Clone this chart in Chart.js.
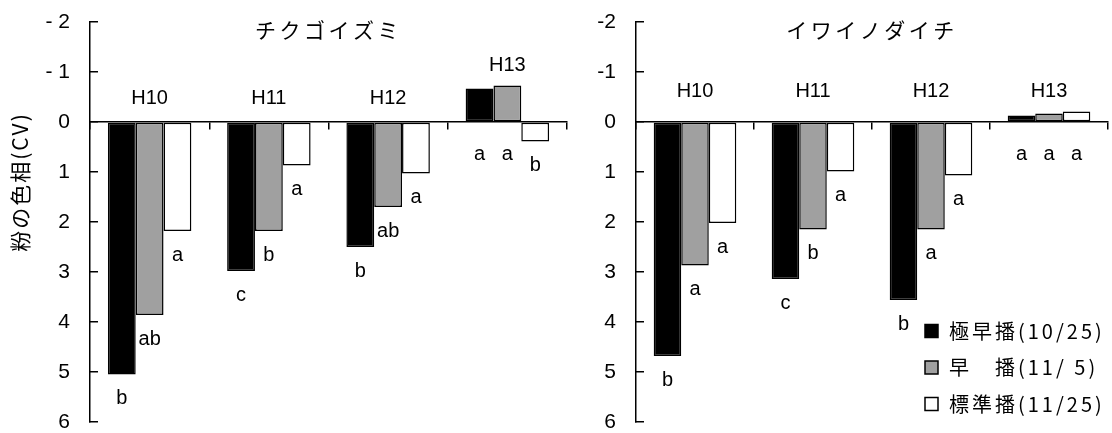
<!DOCTYPE html>
<html>
<head>
<meta charset="utf-8">
<script src="https://cdn.jsdelivr.net/npm/chart.js@4"></script>
<style>
html, body { margin: 0; padding: 0; background: #fff; }
#wrap { position: relative; width: 1112px; height: 433px; }
.panel { position: absolute; top: 0; height: 433px; }
#left { left: 0; width: 575px; }
#right { left: 556px; width: 556px; }
</style>
</head>
<body>
<div id="wrap">
  <div class="panel" id="left"><canvas id="chikugo"></canvas></div>
  <div class="panel" id="right"><canvas id="iwaino"></canvas></div>
</div>
<script>
const years = ['H10', 'H11', 'H12', 'H13'];
const seriesNames = ['極早播(10/25)', '早　播(11/ 5)', '標準播(11/25)'];

// チクゴイズミ
const chikugoVeryEarly = [5.05, 2.98, 2.50, -0.67];
const chikugoEarly = [3.86, 2.18, 1.70, -0.73];
const chikugoStandard = [2.18, 0.87, 1.03, 0.39];
const chikugoLetters = [['b', 'c', 'b', 'a'], ['ab', 'b', 'ab', 'a'], ['a', 'a', 'a', 'b']];

// イワイノダイチ
const iwainoVeryEarly = [4.68, 3.14, 3.56, -0.13];
const iwainoEarly = [2.87, 2.15, 2.15, -0.17];
const iwainoStandard = [2.02, 0.99, 1.07, -0.21];
const iwainoLetters = [['b', 'c', 'b', 'a'], ['a', 'b', 'a', 'a'], ['a', 'a', 'a', 'a']];

const leftTickLabels = ['- 2', '- 1', '0', '1', '2', '3', '4', '5', '6'];
const rightTickLabels = ['-2', '-1', '0', '1', '2', '3', '4', '5', '6'];

const fillColors = ['#000000', '#a0a0a0', '#ffffff'];
const latin = "'Liberation Sans', Arial, 'Noto Sans CJK JP', sans-serif";
const cjk = "'Noto Sans CJK JP', 'Liberation Sans', sans-serif";

// draws the texts that sit inside the plot: title, year labels, letters, legend
const marksPlugin = {
  id: 'marks',
  afterDatasetsDraw(chart, args, opts) {
    const ctx = chart.ctx;
    const xs = chart.scales.x;
    const ys = chart.scales.y;
    const area = chart.chartArea;
    const zero = ys.getPixelForValue(0);
    ctx.save();
    ctx.fillStyle = '#000';
    ctx.textAlign = 'center';
    ctx.textBaseline = 'middle';

    // title
    ctx.font = '21px ' + cjk;
    ctx.letterSpacing = '3.5px';
    ctx.fillText(opts.title, (area.left + area.right) / 2, area.top + 8);
    ctx.letterSpacing = '0px';

    // year labels above each group
    ctx.font = '20px ' + latin;
    years.forEach((yr, j) => {
      let top = zero;
      chart.data.datasets.forEach((ds, i) => {
        const bar = chart.getDatasetMeta(i).data[j];
        top = Math.min(top, bar.y);
      });
      const cy = Math.min(zero - opts.labelGap, top - 20);
      ctx.fillText(yr, xs.getPixelForValue(j), cy);
    });

    // significance letters under bars
    ctx.font = '20px ' + latin;
    chart.data.datasets.forEach((ds, i) => {
      chart.getDatasetMeta(i).data.forEach((bar, j) => {
        const v = ds.data[j];
        const cy = v >= 0 ? bar.y + 24 : zero + 32;
        ctx.fillText(opts.letters[i][j], bar.x, cy);
      });
    });

    // y axis title
    if (opts.yTitle) {
      ctx.save();
      ctx.translate(20, area.top + 160);
      ctx.rotate(-Math.PI / 2);
      ctx.font = '21px ' + cjk;
      ctx.letterSpacing = '2px';
      ctx.fillText(opts.yTitle, 0, 0);
      ctx.restore();
    }

    // legend
    if (opts.legend) {
      const lx = area.right - 183;
      ctx.textAlign = 'left';
      ctx.font = '20px ' + cjk;
      ctx.letterSpacing = '3px';
      chart.data.datasets.forEach((ds, i) => {
        const cy = area.bottom - 91 + i * 36.5;
        ctx.fillStyle = ds.backgroundColor;
        ctx.fillRect(lx, cy - 6.5, 13, 13);
        ctx.strokeStyle = '#000';
        ctx.lineWidth = 1.5;
        ctx.strokeRect(lx, cy - 6.5, 13, 13);
        ctx.fillStyle = '#000';
        ctx.fillText(ds.label, lx + 24, cy);
      });
      ctx.letterSpacing = '0px';
    }
    ctx.restore();
  }
};

function makeDatasets(values) {
  return values.map((data, i) => ({
    label: seriesNames[i],
    data,
    backgroundColor: fillColors[i],
    borderColor: '#000',
    borderWidth: 1.5,
    borderSkipped: false,
    categoryPercentage: 0.7,
    barPercentage: 1.0,
  }));
}

function makeChart(canvasId, values, marks, tickLabels, axisWidth, padRight) {
  const ctx = document.getElementById(canvasId).getContext('2d');
  return new Chart(ctx, {
    type: 'bar',
    data: {
      labels: years,
      datasets: makeDatasets(values),
    },
    plugins: [marksPlugin],
    options: {
      responsive: true,
      maintainAspectRatio: false,
      animation: false,
      layout: { padding: { top: 22, bottom: 11, left: 0, right: padRight } },
      plugins: {
        legend: { display: false },
        tooltip: { enabled: false },
        marks,
      },
      scales: {
        x: {
          type: 'category',
          position: { y: 0 },
          offset: true,
          ticks: { display: false },
          grid: { offset: true, drawOnChartArea: false, drawTicks: true, tickLength: 7, color: '#000', lineWidth: 1.5 },
          border: { color: '#000', width: 1.5 },
          afterFit(scale) { scale.height = 0; },
        },
        y: {
          min: -2,
          max: 6,
          reverse: true,
          ticks: {
            stepSize: 1,
            color: '#000',
            padding: 28,
            font: { size: 21, family: latin },
            callback: v => tickLabels[v + 2],
          },
          grid: { drawOnChartArea: false, tickLength: -8, color: '#000', lineWidth: 1.5 },
          border: { color: '#000', width: 1.5 },
          afterFit(scale) {
            scale.width = axisWidth;
            // the tick padding would otherwise push the plot down from the top and up from the bottom
            scale.paddingTop = 0;
            scale.paddingBottom = 0;
          },
        },
      },
    },
  });
}

window.addEventListener('load', () => {
  makeChart('chikugo', [chikugoVeryEarly, chikugoEarly, chikugoStandard],
    { title: 'チクゴイズミ', labelGap: 24, letters: chikugoLetters, yTitle: '粉の色相(CV)', legend: false },
    leftTickLabels, 90, 8);
  makeChart('iwaino', [iwainoVeryEarly, iwainoEarly, iwainoStandard],
    { title: 'イワイノダイチ', labelGap: 31, letters: iwainoLetters, yTitle: null, legend: true },
    rightTickLabels, 80, 4);
});
</script>
</body>
</html>
